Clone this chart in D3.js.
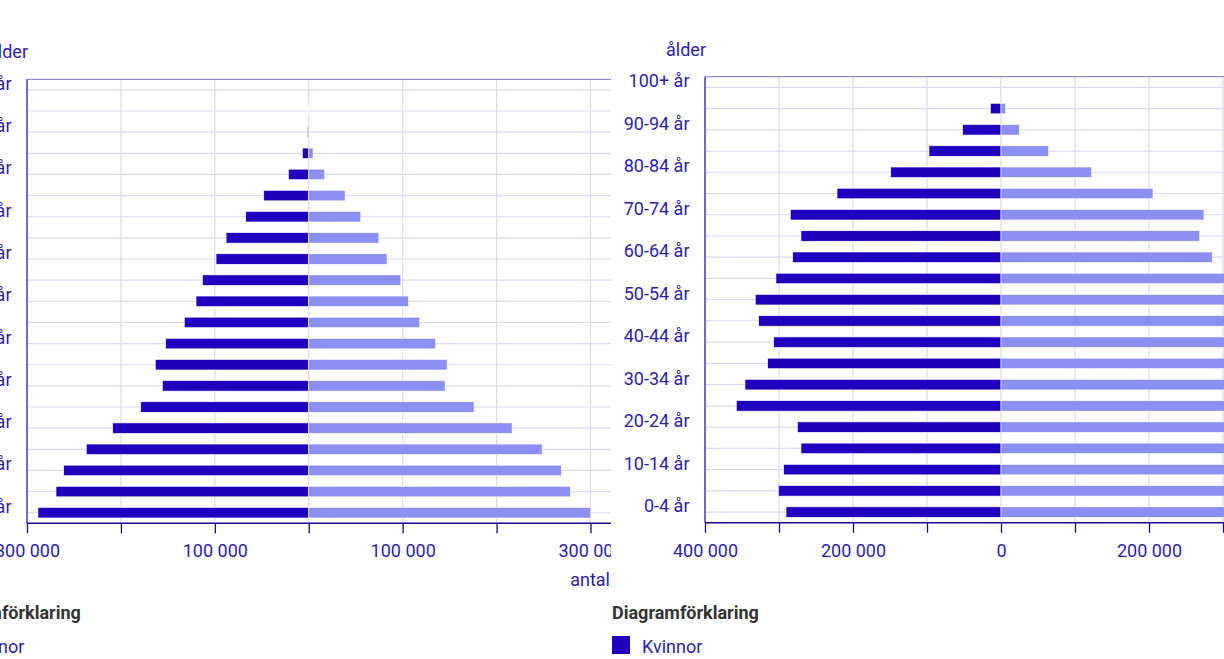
<!DOCTYPE html>
<html>
<head>
<meta charset="utf-8">
<script src="https://cdn.jsdelivr.net/npm/d3@7"></script>
<style>
  html, body { margin: 0; padding: 0; background: #fff; overflow: hidden; }
  svg { display: block; font-family: Roboto, "Noto Sans", sans-serif; }
</style>
</head>
<body>
<svg id="chart" width="1224" height="659"></svg>
<script>
// ---------------- DATA ----------------
const ageGroups = ["0-4 år","5-9 år","10-14 år","15-19 år","20-24 år","25-29 år","30-34 år",
  "35-39 år","40-44 år","45-49 år","50-54 år","55-59 år","60-64 år","65-69 år","70-74 år",
  "75-79 år","80-84 år","85-89 år","90-94 år","95-99 år","100+ år"];

// Left pyramid
const leftKvinnor = [288300,269100,260900,236900,208700,178900,155900,163400,152300,132500,
  120000,113200,98700,88000,67100,47900,21600,6800,1400,100,0];
const leftMan = [300300,278600,269000,248500,216500,176000,145200,147300,135200,118200,
  106200,98000,83400,74600,55400,38700,17000,4600,300,0,0];

// Right pyramid
const rightKvinnor = [290500,300900,293700,270300,275200,357700,346000,315300,307200,327500,
  332000,304100,281500,270300,284700,221600,149000,97300,51800,14400,800];
const rightMan = [306000,318000,310000,303000,305000,372000,358000,326000,318000,335000,
  340000,312000,285500,268500,274300,205400,122500,64400,24700,6300,300];

const leftTicks = [-300000,-200000,-100000,0,100000,200000,300000];
const rightTicks = [-400000,-300000,-200000,-100000,0,100000,200000,300000,400000];

const seriesNames = ["Kvinnor","Män"];
const legendTitle = "Diagramförklaring";
const yTitle = "ålder";
const xTitle = "antal";

// ---------------- STYLE ----------------
const darkColor = "#1e00be";
const lightColor = "#8c8ff2";
const gridColor = "#dcd9f2";
const textColor = "#2c1eaa";
const fontSize = 18;

const locale = d3.formatLocale({decimal: ",", thousands: "\u00a0", grouping: [3], currency: ["", ""]});
const fmt = locale.format(",d");

const svg = d3.select("#chart");
const defs = svg.append("defs");

function pyramid(cfg) {
  defs.append("clipPath").attr("id", cfg.id)
    .append("rect").attr("x", cfg.clipX0).attr("y", 0)
    .attr("width", cfg.clipX1 - cfg.clipX0).attr("height", 659);
  const g = svg.append("g").attr("clip-path", `url(#${cfg.id})`);

  const x = d3.scaleLinear().domain([cfg.ticks[0], cfg.ticks[cfg.ticks.length - 1]])
    .range([cfg.left, cfg.right]);
  const y = d3.scaleBand().domain(ageGroups.slice().reverse()).range([cfg.top, cfg.bottom]);
  const bw = y.bandwidth();
  const cy = d => y(d) + bw / 2;
  const barH = 10.5;

  // vertical gridlines
  g.append("g").selectAll("line").data(cfg.ticks).join("line")
    .attr("x1", d => x(d)).attr("x2", d => x(d))
    .attr("y1", cfg.top).attr("y2", cfg.bottom)
    .attr("stroke", gridColor).attr("stroke-width", 1.2);

  // horizontal gridlines through category centres
  g.append("g").selectAll("line").data(ageGroups).join("line")
    .attr("x1", cfg.left).attr("x2", cfg.plotEnd)
    .attr("y1", d => cy(d)).attr("y2", d => cy(d))
    .attr("stroke", gridColor).attr("stroke-width", 1.2);

  // top border
  g.append("line").attr("x1", cfg.left).attr("x2", cfg.plotEnd)
    .attr("y1", cfg.top).attr("y2", cfg.top)
    .attr("stroke", "#7a70c0").attr("stroke-width", 1);

  // bars: Kvinnor (negative side)
  g.append("g").selectAll("rect").data(ageGroups).join("rect")
    .attr("x", (d, i) => x(-cfg.kvinnor[i]))
    .attr("width", (d, i) => x(0) - x(-cfg.kvinnor[i]))
    .attr("y", d => cy(d) - barH / 2).attr("height", barH)
    .attr("fill", darkColor).attr("stroke", "#fff").attr("stroke-width", 0.6);

  // bars: Män (positive side)
  g.append("g").selectAll("rect").data(ageGroups).join("rect")
    .attr("x", x(0))
    .attr("width", (d, i) => x(cfg.man[i]) - x(0))
    .attr("y", d => cy(d) - barH / 2).attr("height", barH)
    .attr("fill", lightColor).attr("stroke", "#fff").attr("stroke-width", 0.6);

  // y axis line
  g.append("line").attr("x1", cfg.left).attr("x2", cfg.left)
    .attr("y1", cfg.top).attr("y2", cfg.bottom)
    .attr("stroke", "#4a3cc8").attr("stroke-width", 1.5);

  // x axis
  const ax = g.append("g").attr("transform", `translate(0,${cfg.bottom})`)
    .call(d3.axisBottom(x).tickValues(cfg.ticks).tickSize(10).tickSizeOuter(0)
      .tickFormat((d, i) => (i % 2 === 0 ? fmt(Math.abs(d)) : "")));
  ax.select(".domain").remove();
  ax.selectAll(".tick line").attr("stroke", "#1a0a90").attr("stroke-width", 1.3);
  ax.selectAll(".tick text").attr("y", 34).attr("dy", 0)
    .attr("fill", textColor).attr("font-size", fontSize).attr("font-family", "Roboto, sans-serif");
  g.append("line").attr("x1", cfg.left).attr("x2", cfg.plotEnd)
    .attr("y1", cfg.bottom).attr("y2", cfg.bottom)
    .attr("stroke", "#1a0a90").attr("stroke-width", 1.5);

  // y labels (every other category)
  g.append("g").selectAll("text").data(ageGroups.filter((d, i) => i % 2 === 0)).join("text")
    .attr("x", cfg.left - 15.5).attr("y", d => cy(d))
    .attr("text-anchor", "end").attr("fill", textColor).attr("font-size", fontSize)
    .text(d => d);

  // axis titles
  g.append("text").attr("x", cfg.left + 1).attr("y", cfg.top - 21)
    .attr("text-anchor", "end").attr("fill", textColor).attr("font-size", fontSize).text(yTitle);
  g.append("text").attr("x", cfg.antalX).attr("y", cfg.bottom + 63)
    .attr("text-anchor", "end").attr("fill", textColor).attr("font-size", fontSize).text(xTitle);

  // legend
  const lg = g.append("g").attr("transform", `translate(${cfg.legendX},0)`);
  lg.append("text").attr("x", 0).attr("y", 619).attr("font-weight", "bold")
    .attr("fill", "#333").attr("font-size", fontSize).text(legendTitle);
  const items = lg.selectAll("g.item").data(seriesNames).join("g")
    .attr("transform", (d, i) => `translate(0,${636 + i * 36})`);
  items.append("rect").attr("x", 0).attr("y", 0).attr("width", 18).attr("height", 18)
    .attr("fill", (d, i) => (i === 0 ? darkColor : lightColor));
  items.append("text").attr("x", 30).attr("y", 17).attr("fill", textColor)
    .attr("font-size", fontSize).text(d => d);
}

pyramid({
  id: "clipL", clipX0: -200, clipX1: 611,
  left: 27, right: 590.5, plotEnd: 640, top: 79.3, bottom: 523.3,
  ticks: leftTicks, kvinnor: leftKvinnor, man: leftMan,
  antalX: 610, legendX: -66
});

pyramid({
  id: "clipR", clipX0: 611, clipX1: 1500,
  left: 705, right: 1297, plotEnd: 1320, top: 76.7, bottom: 522.7,
  ticks: rightTicks, kvinnor: rightKvinnor, man: rightMan,
  antalX: 1318, legendX: 612
});
</script>
</body>
</html>
